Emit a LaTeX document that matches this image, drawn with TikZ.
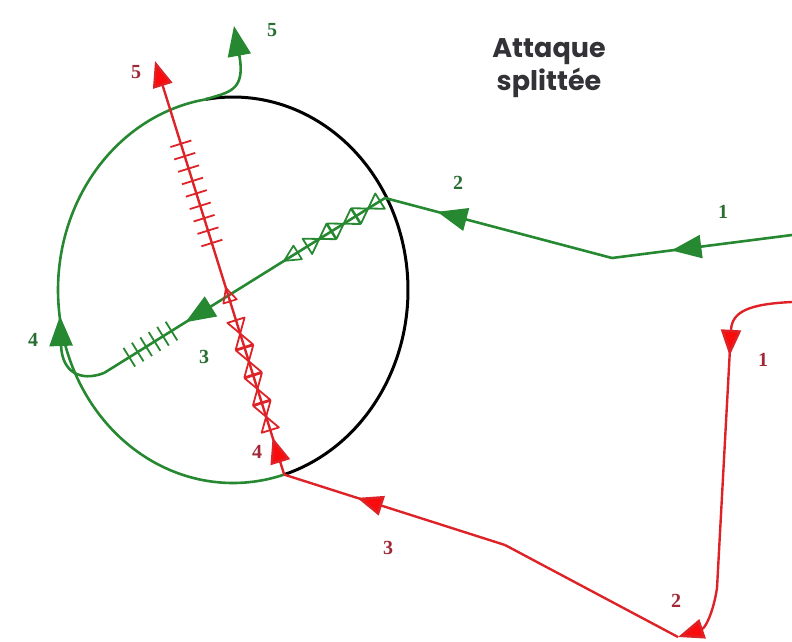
\documentclass[tikz,border=0pt]{standalone}
\usepackage{fontspec}
\setmainfont{Liberation Serif}
\newfontfamily\titlefont{Poppins}
\usetikzlibrary{arrows.meta,decorations.markings,calc}
\definecolor{gline}{RGB}{38,136,48}
\definecolor{glabel}{RGB}{40,110,50}
\definecolor{rline}{RGB}{222,35,40}
\definecolor{rhead}{RGB}{250,12,12}
\definecolor{rlabel}{RGB}{160,40,55}
\definecolor{titlec}{RGB}{50,50,55}
\newcommand\mybow[1]{\draw[-, #1, line width=1.8pt, line join=round] (-14pt,-9pt) -- (-14pt,9pt) -- (14pt,-9pt) -- (14pt,9pt) -- cycle;}
\newcommand\mytri[2]{\draw[-, #1, line width=1.7pt, line join=round] (-#2,-#2) -- (-#2,#2) -- (#2,0pt) -- cycle;}
\newcommand\myhatch[1]{\draw[-, #1, line width=1.8pt] (0pt,-11pt) -- (0pt,11pt);}
\tikzset{
  gtip/.tip={Triangle[length=30pt,width=23pt,fill=gline]},
  rtip/.tip={Triangle[length=26pt,width=20pt,fill=rhead]},
  gpath/.style={draw=gline, line width=2.6pt, line join=round},
  rpath/.style={draw=rline, line width=2.4pt, line join=round},
  kpath/.style={draw=black, line width=3pt},
  marks/.style={postaction={decorate}, decoration={markings,#1}},
  glab/.style={text=glabel, font=\bfseries\fontsize{20}{20}\selectfont, inner sep=0pt},
  rlab/.style={text=rlabel, font=\bfseries\fontsize{20}{20}\selectfont, inner sep=0pt},
  titlestyle/.style={text=titlec, font=\titlefont\bfseries\fontsize{27}{33}\selectfont, align=center, inner sep=0pt}
}
\begin{document}
\begin{tikzpicture}[x=1pt,y=-1pt]
\useasboundingbox (0,0) rectangle (792,641);
% coordinates
\coordinate (Ctop) at (205.6,99.4);
\coordinate (Cbot) at (284.2,474.6);
\coordinate (G0) at (792,235);
\coordinate (G1) at (612,258);
\coordinate (G2) at (385,198);
\coordinate (G3) at (104,373);
\coordinate (G4) at (60,316);
\coordinate (G5) at (234,26);
\coordinate (R0) at (792,302);
\coordinate (Ra) at (731,330);
\coordinate (Rb) at (717,588);
\coordinate (R2) at (678,637);
\coordinate (R3k) at (505,545);
\coordinate (R5) at (155,61);

% circle
\draw[kpath] plot[domain=-99:73, samples=90, smooth] ({233+175*cos(\x)},{290+193*sin(\x)});
\draw[gpath] plot[domain=73:261, samples=90, smooth] ({233+175*cos(\x)},{290+193*sin(\x)});

% green path
\draw[gpath, marks={mark=at position 0.67 with {\arrow{gtip}}}] (G0) -- (G1);
\draw[gpath, marks={mark=at position 0.77 with {\arrow{gtip}}}] (G1) -- (G2);
\draw[gpath, marks={
   mark=at position 0.06 with {\mybow{gline}},
   mark=at position 0.147 with {\mybow{gline}},
   mark=at position 0.234 with {\mybow{gline}},
   mark=at position 0.335 with {\mytri{gline}{8pt}},
   mark=at position 0.71 with {\arrow{gtip}},
   mark=at position 0.76 with {\myhatch{gline}},
   mark=at position 0.79 with {\myhatch{gline}},
   mark=at position 0.82 with {\myhatch{gline}},
   mark=at position 0.85 with {\myhatch{gline}},
   mark=at position 0.88 with {\myhatch{gline}},
   mark=at position 0.91 with {\myhatch{gline}}}] (G2) -- (G3);
\draw[gpath, -{gtip}] (G3) .. controls (80,382) and (62,372) .. (G4);
\draw[gpath, -{gtip}] (Ctop) .. controls (228,92) and (246,92) .. (G5);

% red path
\draw[rpath] (R0) .. controls (748,304) and (732,312) .. (Ra);
\draw[rpath, marks={mark=at position 0.1 with {\arrow{rtip}}}] (Ra) -- (Rb);
\draw[rpath, -{rtip}] (Rb) .. controls (713,614) and (705,628) .. (R2);
\draw[rpath] (R2) -- (R3k);
\draw[rpath, marks={mark=at position 0.67 with {\arrow{rtip}}}] (R3k) -- (Cbot);
\draw[rpath, -{rtip}, marks={
   mark=at position 0.09 with {\arrow{rtip}},
   mark=at position 0.14 with {\mybow{rline}},
   mark=at position 0.207 with {\mybow{rline}},
   mark=at position 0.274 with {\mybow{rline}},
   mark=at position 0.341 with {\mybow{rline}},
   mark=at position 0.435 with {\mytri{rline}{7pt}},
   mark=at position 0.56 with {\myhatch{rline}},
   mark=at position 0.59 with {\myhatch{rline}},
   mark=at position 0.62 with {\myhatch{rline}},
   mark=at position 0.65 with {\myhatch{rline}},
   mark=at position 0.68 with {\myhatch{rline}},
   mark=at position 0.71 with {\myhatch{rline}},
   mark=at position 0.74 with {\myhatch{rline}},
   mark=at position 0.77 with {\myhatch{rline}},
   mark=at position 0.80 with {\myhatch{rline}}}] (Cbot) -- (R5);

% labels
\node[glab] (g1) at (723,212) {1};
\node[glab] (g2) at (458,183) {2};
\node[glab] (g3) at (204,357) {3};
\node[glab] (g4) at (33,340) {4};
\node[glab] (g5) at (272,30) {5};
\node[rlab] (r1) at (763,360) {1};
\node[rlab] (r2) at (676,601) {2};
\node[rlab] (r3) at (388,548) {3};
\node[rlab] (r4) at (257,452) {4};
\node[rlab] (r5) at (136,72) {5};

% title
\node[titlestyle] (title) at (549,68) {Attaque\\splittée};
\end{tikzpicture}
\end{document}
